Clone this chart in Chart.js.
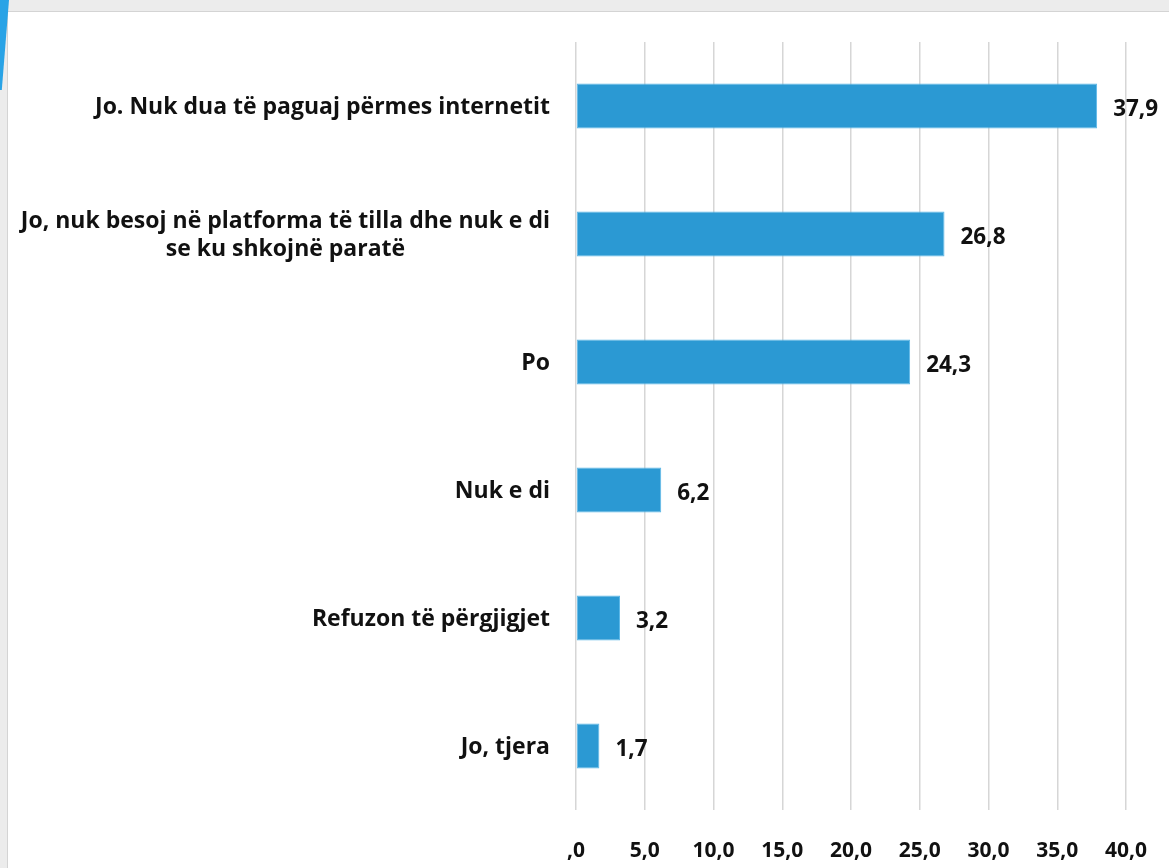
<!DOCTYPE html>
<html>
<head>
<meta charset="utf-8">
<script src="https://cdn.jsdelivr.net/npm/chart.js@4.4.0/dist/chart.umd.min.js"></script>
<style>
  html, body { margin: 0; padding: 0; background: #fff; }
  #wrap { position: relative; width: 1169px; height: 868px; overflow: hidden; }
  #topband { position: absolute; left: 0; top: 0; width: 1169px; height: 11px; background: #ececec; border-bottom: 1px solid #d4d4d4; }
  #leftband { position: absolute; left: 0; top: 0; width: 7px; height: 868px; background: #ececec; border-right: 1px solid #d4d4d4; }
  #blue { position: absolute; left: 0; top: 0; width: 9px; height: 90px; background: #29a3e6; clip-path: polygon(0 0, 100% 0, 20% 100%, 0 100%); }
  canvas { position: absolute; left: 0; top: 0; }
</style>
</head>
<body>
<div id="wrap">
  <div id="topband"></div>
  <div id="leftband"></div>
  <div id="blue"></div>
  <canvas id="myChart" width="1169" height="868"></canvas>
</div>
<script>
/* chart data */
const categories = [
    ["Jo. Nuk dua të paguaj përmes internetit"],
    ["Jo, nuk besoj në platforma të tilla dhe nuk e di", "se ku shkojnë paratë"],
    ["Po"],
    ["Nuk e di"],
    ["Refuzon të përgjigjet"],
    ["Jo, tjera"]
];
const values = [37.9, 26.8, 24.3, 6.2, 3.2, 1.7];
const tickValues = [0, 5, 10, 15, 20, 25, 30, 35, 40];

const fontName = "'Open Sans', sans-serif";

function fmt(v) {
    if (v === 0) return ",0";
    return v.toFixed(1).replace(".", ",");
}

/* draws the category labels and the value labels */
const labelPlugin = {
    id: "labelPlugin",
    afterDatasetsDraw(chart) {
        const ctx = chart.ctx;
        const meta = chart.getDatasetMeta(0);
        const yScale = chart.scales.y;
        ctx.save();
        ctx.fillStyle = "#111";
        ctx.textBaseline = "middle";

        // value labels
        ctx.font = "bold 22.5px " + fontName;
        ctx.textAlign = "left";
        meta.data.forEach((bar, i) => {
            ctx.fillText(fmt(values[i]), bar.x + 16, bar.y + 4);
        });

        // category labels, right edge fixed, lines centered in their block
        ctx.font = "bold 23px " + fontName;
        const rightEdge = 550;
        const lineH = 28;
        ctx.textAlign = "center";
        categories.forEach((lines, i) => {
            const yc = yScale.getPixelForValue(i) + 1;
            let w = 0;
            lines.forEach((l) => { w = Math.max(w, ctx.measureText(l).width); });
            const cx = rightEdge - w / 2;
            const y0 = yc - (lines.length - 1) * lineH / 2;
            lines.forEach((l, k) => {
                ctx.fillText(l, cx, y0 + k * lineH);
            });
        });
        ctx.restore();
    }
};

const data = {
    labels: categories.map((c) => c.join(" ")),
    datasets: [
        {
            data: values,
            backgroundColor: "#2b99d3",
            borderColor: "#5cb8e8",
            borderWidth: 1,
            borderSkipped: false,
            barPercentage: 0.35,
            categoryPercentage: 1.0,
        },
    ],
};

const config = {
    type: "bar",
    data: data,
    plugins: [labelPlugin],
    options: {
        indexAxis: "y",
        responsive: false,
        animation: false,
        layout: {
            padding: { left: 0, right: 43, top: 42, bottom: 0 },
        },
        plugins: {
            legend: { display: false },
            tooltip: { enabled: false },
        },
        scales: {
            x: {
                min: 0,
                max: 40,
                afterBuildTicks: (scale) => {
                    scale.ticks = tickValues.map((v) => ({ value: v }));
                },
                afterFit: (scale) => {
                    scale.height = 58;
                    scale.paddingLeft = 0;
                    scale.paddingRight = 0;
                },
                ticks: {
                    color: "#111",
                    padding: 28,
                    maxRotation: 0,
                    font: { family: fontName, size: 21, weight: "bold" },
                    callback: (v) => fmt(v),
                },
                grid: {
                    color: "#d6d6d6",
                    lineWidth: 1.5,
                    drawTicks: false,
                },
                border: { display: false },
            },
            y: {
                afterFit: (scale) => { scale.width = 576; },
                ticks: { display: false },
                grid: { display: false },
                border: { display: false },
            },
        },
    },
};

const myChart = new Chart(document.getElementById("myChart"), config);
</script>
</body>
</html>
